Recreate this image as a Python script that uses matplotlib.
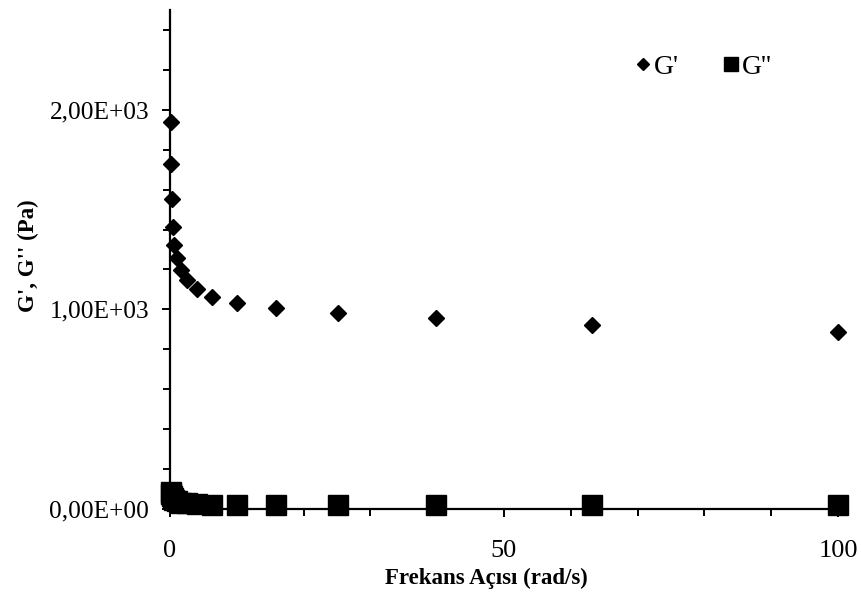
import matplotlib
matplotlib.use("Agg")
import matplotlib.pyplot as plt
from matplotlib.ticker import MultipleLocator, FuncFormatter

plt.rcParams['font.family'] = ['Liberation Serif', 'DejaVu Serif']

freq = [0.1, 0.158, 0.251, 0.398, 0.631, 1.0, 1.58, 2.51, 3.98, 6.31,
        10.0, 15.8, 25.1, 39.8, 63.1, 100.0]
g_storage = [1938, 1729, 1555, 1413, 1325, 1257, 1195, 1148, 1100, 1061,
             1031, 1008, 982, 957, 922, 887]
g_loss = [85, 75, 65, 55, 45, 38, 32, 28, 24, 22,
          20, 19, 19, 20, 21, 22]

fig = plt.figure(figsize=(8.61, 5.98), dpi=100)
ax = fig.add_axes([0.1974, 0.1488, 0.7759, 0.8345])

ax.plot(freq, g_storage, linestyle='none', marker='D', markersize=8.2,
        color='black', label="G'", clip_on=False, zorder=3)
ax.plot(freq, g_loss, linestyle='none', marker='s', markersize=14,
        color='black', label="G''", clip_on=False, zorder=3)

ax.set_xlim(0, 100)
ax.set_ylim(0, 2500)
ax.xaxis.set_major_locator(MultipleLocator(50))
ax.xaxis.set_minor_locator(MultipleLocator(10))
ax.yaxis.set_major_locator(MultipleLocator(1000))
ax.yaxis.set_minor_locator(MultipleLocator(200))

def sci_comma(v, pos):
    s = "%.2E" % v
    return s.replace('.', ',')

ax.yaxis.set_major_formatter(FuncFormatter(sci_comma))

for side in ['top', 'right']:
    ax.spines[side].set_visible(False)
for side in ['left', 'bottom']:
    ax.spines[side].set_linewidth(1.6)

ax.tick_params(axis='both', which='major', direction='out', length=6,
               width=1.4)
ax.tick_params(axis='both', which='minor', direction='out', length=5,
               width=1.4)
ax.tick_params(axis='y', which='major', pad=9, labelsize=18.3)
ax.tick_params(axis='x', which='major', pad=16, labelsize=19)

ax.set_xlabel("Frekans Açısı (rad/s)", fontsize=16.5, fontweight='bold')
ax.xaxis.set_label_coords(0.473, -0.118)
ax.set_ylabel("G', G'' (Pa)", fontsize=16.5, fontweight='bold')
ax.yaxis.set_label_coords(-0.196, 0.508)

leg = ax.legend(loc='center', bbox_to_anchor=(0.8135, 0.888),
                bbox_transform=fig.transFigure, ncol=2, frameon=False,
                fontsize=20, handletextpad=-0.1, columnspacing=1.35,
                markerscale=0.72, handlelength=1.0)

fig.savefig("out.png", dpi=100)
